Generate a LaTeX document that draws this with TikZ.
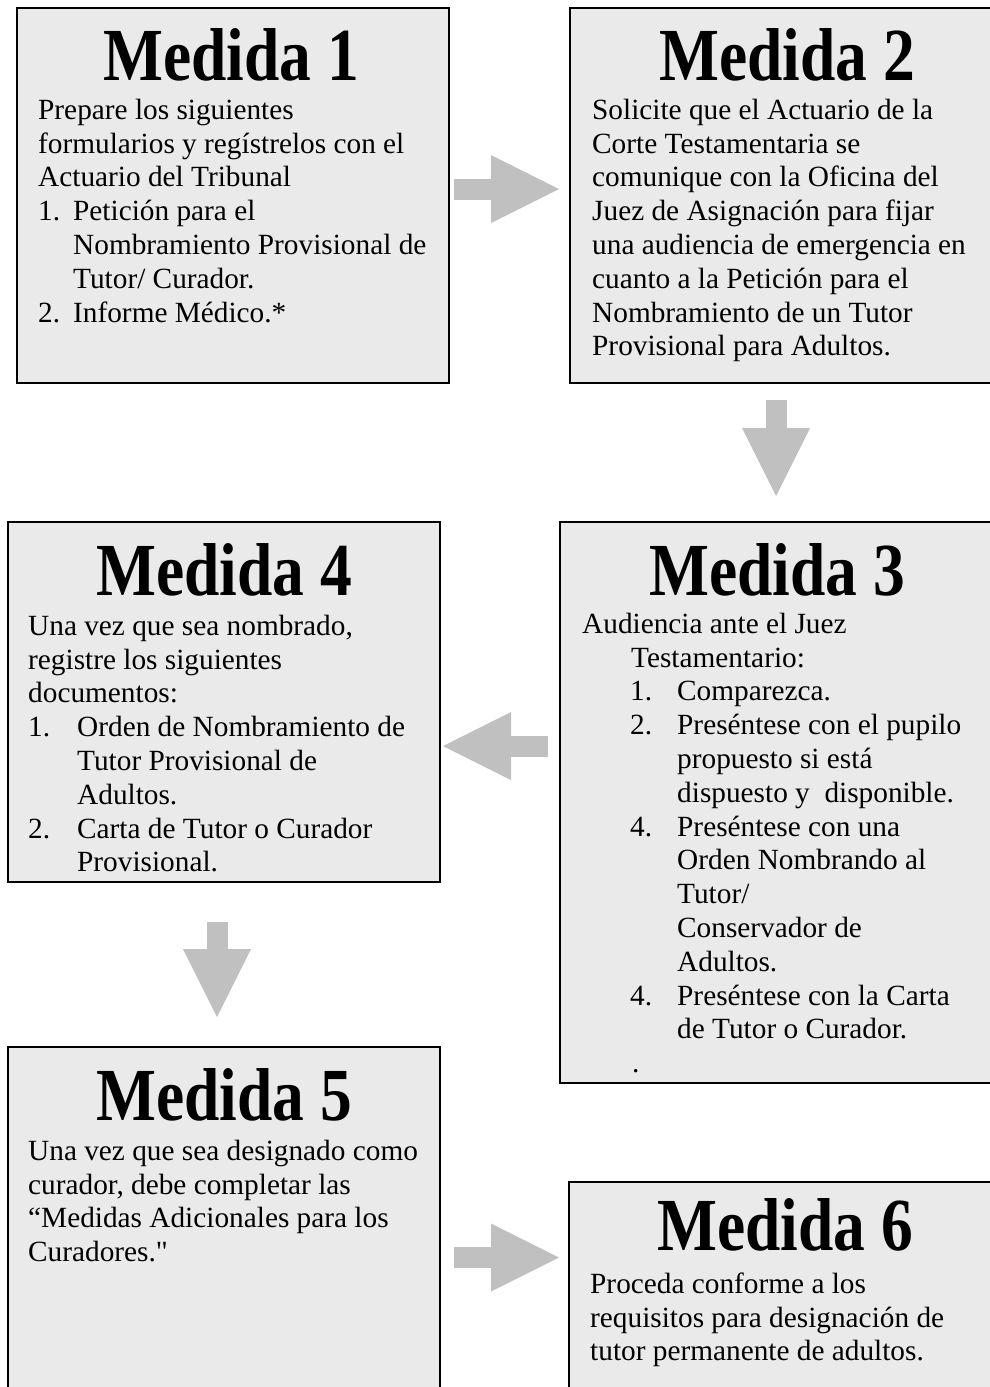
\documentclass[tikz,border=0pt]{standalone}
\usepackage{fontspec}
\newfontfamily\lib{Liberation Serif}
\usetikzlibrary{arrows.meta,calc}
\definecolor{boxfill}{HTML}{EAEAEA}
\definecolor{arrgray}{HTML}{C0C0C0}
\newcommand\bodyfnt{\lib\fontsize{29.3pt}{33.8pt}\selectfont}
\newcommand\headfnt{\lib\fontsize{63.5pt}{70pt}\selectfont\bfseries}
\newcommand\frst{\rule{0pt}{25pt}}
\newcommand\hd[1]{\scalebox{1}[1.18]{#1}}
\tikzset{
  stepbox/.style={draw=black, line width=2pt, fill=boxfill, rectangle, inner sep=0pt, outer sep=0pt, anchor=north west},
  openbox/.style={fill=boxfill, rectangle, inner sep=0pt, outer sep=0pt, anchor=north west},
  edge/.style={draw=black, line width=2pt, line join=miter},
  headtxt/.style={font=\headfnt, inner sep=0pt, anchor=base},
  bodytxt/.style={font=\bodyfnt, inner sep=0pt, anchor=north west, align=left},
  barrow/.style={draw=arrgray, line width=21pt, -{Triangle[width=68pt,length=68pt,line width=0pt]}}
}
\begin{document}
\begin{tikzpicture}[x=1pt,y=-1pt]
\useasboundingbox (0,0) rectangle (990,1387);
\fill[white] (0,0) rectangle (990,1387);
\clip (0,0) rectangle (990,1387);
% boxes
\node[stepbox, minimum width=432pt, minimum height=375pt] (m1) at (17,8) {};
\node[openbox, minimum width=440pt, minimum height=375pt] (m2) at (570,8) {};
\node[stepbox, minimum width=432pt, minimum height=360pt] (m4) at (8,522) {};
\node[openbox, minimum width=440pt, minimum height=561pt] (m3) at (560,522) {};
\node[openbox, minimum width=432pt, minimum height=360pt] (m5) at (8,1047) {};
\node[openbox, minimum width=440pt, minimum height=225pt] (m6) at (569,1182) {};
\draw[edge] (m2.north east) -- (m2.north west) -- (m2.south west) -- (m2.south east);
\draw[edge] (m3.north east) -- (m3.north west) -- (m3.south west) -- (m3.south east);
\draw[edge] (m5.south west) -- (m5.north west) -- (m5.north east) -- (m5.south east);
\draw[edge] (m6.north east) -- (m6.north west) -- (m6.south west);
% headings
\node[headtxt] (h1) at (231,80) {\hd{Medida 1}};
\node[headtxt] (h2) at (787,80) {\hd{Medida 2}};
\node[headtxt] (h4) at (224,595) {\hd{Medida 4}};
\node[headtxt] (h3) at (777,595) {\hd{Medida 3}};
\node[headtxt] (h5) at (224,1120) {\hd{Medida 5}};
\node[headtxt] (h6) at (785,1250) {\hd{Medida 6}};
% bodies
\node[bodytxt] (t1) at (38,94) {\frst Prepare los siguientes\\
formularios y regístrelos con el\\
Actuario del Tribunal\\
\makebox[35pt][l]{1.}Petición para el\\
\hspace*{35pt}Nombramiento Provisional de\\
\hspace*{35pt}Tutor/ Curador.\\
\makebox[35pt][l]{2.}Informe Médico.*};
\node[bodytxt] (t2) at (592,94) {\frst Solicite que el Actuario de la\\
Corte Testamentaria se\\
comunique con la Oficina del\\
Juez de Asignación para fijar\\
una audiencia de emergencia en\\
cuanto a la Petición para el\\
Nombramiento de un Tutor\\
Provisional para Adultos.};
\node[bodytxt] (t4) at (28,610) {\frst Una vez que sea nombrado,\\
registre los siguientes\\
documentos:\\
\makebox[49pt][l]{1.}Orden de Nombramiento de\\
\hspace*{49pt}Tutor Provisional de\\
\hspace*{49pt}Adultos.\\
\makebox[49pt][l]{2.}Carta de Tutor o Curador\\
\hspace*{49pt}Provisional.};
\node[bodytxt] (t3) at (582,608) {\frst Audiencia ante el Juez\\
\hspace*{49pt}Testamentario:\\
\hspace*{48pt}\makebox[47pt][l]{1.}Comparezca.\\
\hspace*{48pt}\makebox[47pt][l]{2.}Preséntese con el pupilo\\
\hspace*{95pt}propuesto si está\\
\hspace*{95pt}dispuesto y\ \ disponible.\\
\hspace*{48pt}\makebox[47pt][l]{4.}Preséntese con una\\
\hspace*{95pt}Orden Nombrando al\\
\hspace*{95pt}Tutor/\\
\hspace*{95pt}Conservador de\\
\hspace*{95pt}Adultos.\\
\hspace*{48pt}\makebox[47pt][l]{4.}Preséntese con la Carta\\
\hspace*{95pt}de Tutor o Curador.\\
\hspace*{50pt}.};
\node[bodytxt] (t5) at (28,1135) {\frst Una vez que sea designado como\\
curador, debe completar las\\
“Medidas Adicionales para los\\
Curadores."};
\node[bodytxt] (t6) at (590,1268) {\frst Proceda conforme a los\\
requisitos para designación de\\
tutor permanente de adultos.};
% block arrows
\draw[barrow] ($(m1.east)+(5,-6.5)$) -- ($(m1.east -| m2.west)+(-11,-6.5)$);
\draw[barrow] ($(m2.south west)+(206,17)$) -- ($(m3.north west)+(216,-26)$);
\draw[barrow] ($(m3.west)+(-12,-56.5)$) -- ($(m4.east)+(3,44)$);
\draw[barrow] ($(m4.south)+(-7,40)$) -- ($(m5.north)+(-7,-30)$);
\draw[barrow] ($(m5.north east)+(14,210.5)$) -- ($(m6.north west)+(-10,75.5)$);
\end{tikzpicture}
\end{document}
